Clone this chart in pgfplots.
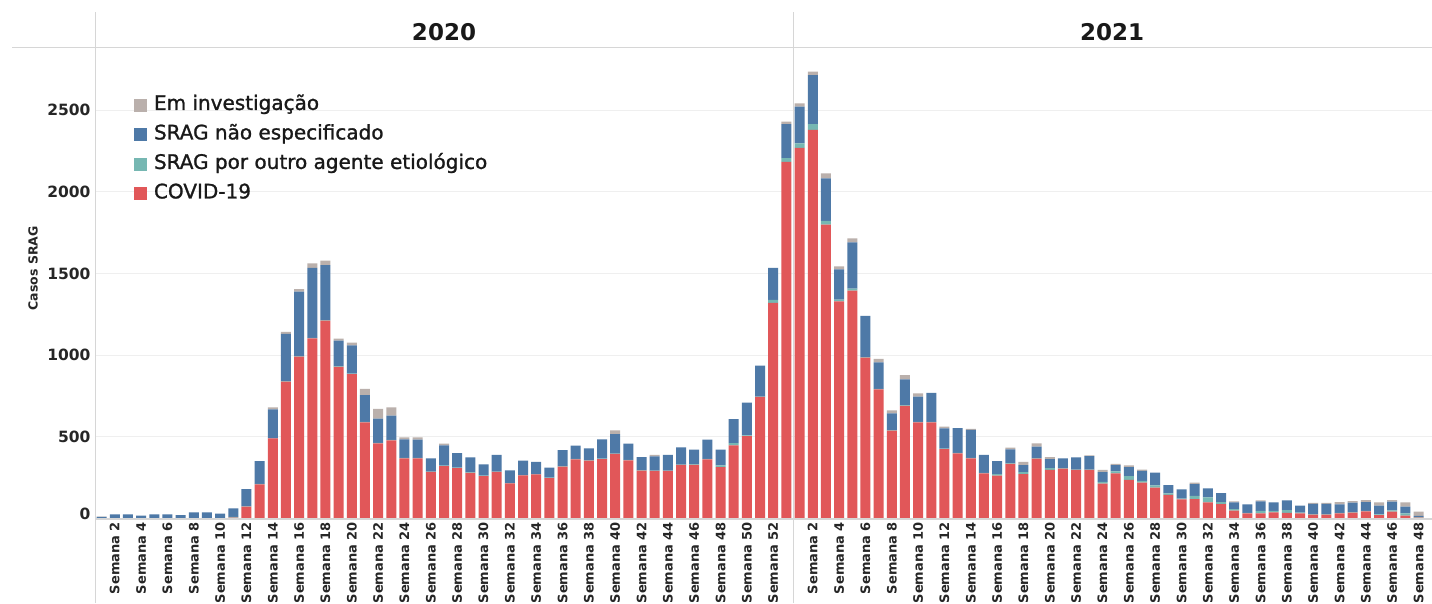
\documentclass[border=0pt]{standalone}
\usepackage{fontspec}
\setmainfont{DejaVu Sans}
\newfontfamily\legfont[FakeBold=1.2]{DejaVu Sans}
\usepackage{pgfplots}
\usepackage{pgfplotstable}
\pgfplotsset{compat=1.18}

\definecolor{cCovid}{HTML}{E15759}
\definecolor{cOutro}{HTML}{76B7B2}
\definecolor{cNesp}{HTML}{4E79A7}
\definecolor{cInv}{HTML}{BAB0AC}
\definecolor{gridc}{HTML}{EFEFEF}
\definecolor{sepc}{HTML}{D6D6D6}

\pgfplotstableread{
w covid outro nesp inv
1 0 0 10 2
2 0 3 22 0
3 0 3 22 0
4 0 2 15 0
5 0 3 22 0
6 0 3 22 0
7 0 2 19 0
8 0 3 35 0
9 0 3 35 0
10 0 3 27 0
11 5 5 52 0
12 72 3 105 0
13 209 3 140 0
14 490 0 178 13
15 838 3 289 12
16 991 3 395 16
17 1103 3 428 28
18 1211 3 338 27
19 929 3 157 12
20 884 3 173 17
21 589 3 164 37
22 460 3 148 61
23 479 3 148 51
24 368 3 114 12
25 368 3 112 14
26 285 2 81 0
27 321 3 124 10
28 309 2 90 0
29 279 3 92 0
30 260 3 69 0
31 285 2 102 0
32 215 2 78 0
33 264 2 88 0
34 270 2 74 0
35 248 3 60 0
36 317 3 99 0
37 362 3 81 0
38 354 3 73 0
39 364 3 118 0
40 395 3 119 23
41 356 3 99 0
42 293 3 80 0
43 291 2 88 9
44 291 2 97 0
45 328 2 106 0
46 328 4 89 0
47 362 3 118 0
48 315 10 96 0
49 448 14 147 0
50 505 4 200 0
51 744 3 189 0
52 1321 17 196 0
53 2183 24 208 15
}\dataA

\pgfplotstableread{
w covid outro nesp inv
1 2270 27 225 20
2 2379 36 300 21
3 1799 24 260 30
4 1329 11 186 18
5 1395 12 284 24
6 985 3 252 0
7 791 3 162 21
8 538 3 103 18
9 689 3 160 26
10 589 3 154 20
11 589 3 178 0
12 425 3 124 10
13 399 3 152 0
14 368 3 172 6
15 276 3 110 0
16 262 10 80 0
17 334 3 86 11
18 272 12 43 19
19 366 3 71 20
20 297 12 55 12
21 305 3 60 0
22 297 3 74 0
23 297 3 82 4
24 213 12 59 13
25 276 12 39 7
26 236 24 55 11
27 219 12 60 8
28 189 14 78 0
29 144 10 51 0
30 117 5 57 0
31 119 19 73 8
32 99 31 55 0
33 88 12 56 0
34 48 10 41 6
35 31 3 53 0
36 32 14 59 6
37 38 8 53 0
38 34 18 59 0
39 32 4 43 0
40 23 4 62 6
41 23 4 62 6
42 32 3 52 14
43 36 3 58 10
44 44 3 54 12
45 21 4 54 20
46 42 8 53 10
47 17 15 40 27
48 5 3 8 26
}\dataB

\pgfplotsset{
  panel/.style={
    scale only axis,
    height=470.5pt,
    ymin=0, ymax=2881,
    ybar stacked,
    bar width=10pt,
    axis line style={draw=none},
    tick style={draw=none},
    major tick length=0pt,
    ytick={0,500,1000,1500,2000,2500},
    ymajorgrids,
    grid style={gridc, line width=1pt},
    xticklabel={Semana \pgfmathparse{int(\tick)}\pgfmathresult},
    x tick label style={rotate=90, anchor=east, font=\fontsize{13}{13}\selectfont\bfseries, text=black!85},
    clip=false,
  },
}

\begin{document}
\begin{tikzpicture}[x=1pt,y=1pt]
\path[use as bounding box] (0,0) rectangle (1432,603);
\fill[white] (0,0) rectangle (1432,603);

\begin{axis}[panel,
  at={(95pt,84.5pt)}, anchor=south west,
  width=698pt, xmin=0.5, xmax=53.5,
  xtick={2,4,...,52},
  yticklabels={\raisebox{10pt}{0},500,1000,1500,2000,2500},
  y tick label style={font=\fontsize{15.5}{15.5}\selectfont\bfseries, text=black!85, xshift=-1pt},
  ylabel={Casos SRAG},
  y label style={at={(axis description cs:-0.0888,0.532)}, anchor=center, font=\fontsize{12.5}{12.5}\selectfont\bfseries, text=black!85},
  reverse legend,
  legend style={at={(axis description cs:0.052,0.906)}, anchor=north west, draw=none, fill=none,
    font=\legfont\fontsize{20}{20}\selectfont, text=black!90, row sep=7.5pt,
    nodes={inner sep=1.5pt, text height=14pt, text depth=5pt},
    /tikz/every odd column/.append style={column sep=5pt}},
  legend cell align=left,
  legend image code/.code={\fill[#1] (0pt,-6.5pt) rectangle (13pt,6.5pt);},
]
\addplot[fill=cCovid, draw=none] table[x=w, y=covid] {\dataA};
\addlegendentry{COVID-19}
\addplot[fill=cOutro, draw=none] table[x=w, y=outro] {\dataA};
\addlegendentry{SRAG por outro agente etiológico}
\addplot[fill=cNesp, draw=none] table[x=w, y=nesp] {\dataA};
\addlegendentry{SRAG não especificado}
\addplot[fill=cInv, draw=none] table[x=w, y=inv] {\dataA};
\addlegendentry{Em investigação}
\end{axis}

\begin{axis}[panel,
  at={(793pt,84.5pt)}, anchor=south west,
  width=639pt, xmin=0.5, xmax=49.02,
  xtick={2,4,...,48},
  yticklabels={},
]
\addplot[fill=cCovid, draw=none] table[x=w, y=covid] {\dataB};
\addplot[fill=cOutro, draw=none] table[x=w, y=outro] {\dataB};
\addplot[fill=cNesp, draw=none] table[x=w, y=nesp] {\dataB};
\addplot[fill=cInv, draw=none] table[x=w, y=inv] {\dataB};
\end{axis}

\draw[sepc, line width=1pt] (12,555) -- (1432,555);
\draw[sepc, line width=1pt] (95,0) -- (95,591);
\draw[sepc, line width=1pt] (793,0) -- (793,591);
\draw[sepc, line width=1.2pt] (95,84) -- (1432,84);
\node[font=\fontsize{23}{23}\selectfont\bfseries, text=black!90] at (444,571) {2020};
\node[font=\fontsize{23}{23}\selectfont\bfseries, text=black!90] at (1112,571) {2021};
\end{tikzpicture}
\end{document}
